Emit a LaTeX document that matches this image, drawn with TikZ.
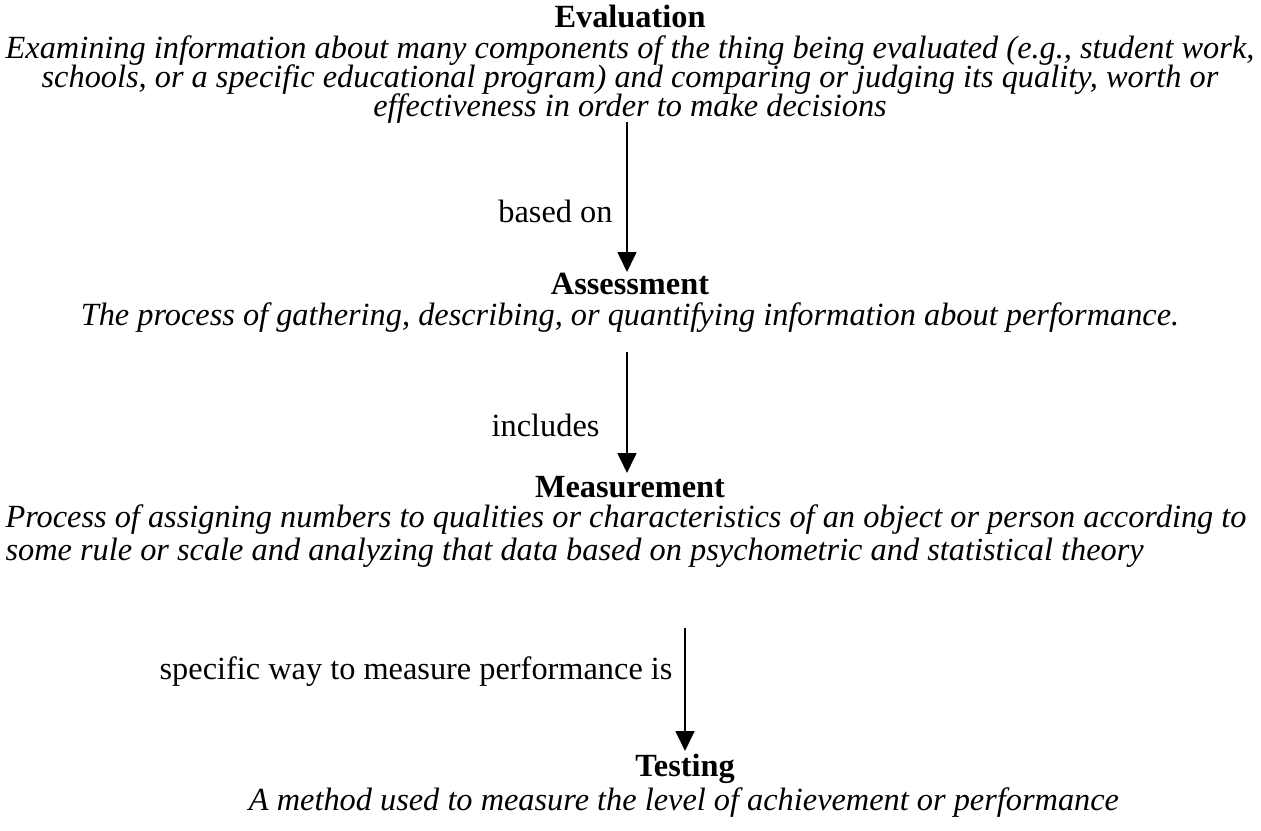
\documentclass[tikz,border=0pt]{standalone}
\usepackage{fontspec}
\setmainfont{Liberation Serif}
\usetikzlibrary{arrows.meta}
\newcommand\tightlines{\lineskiplimit=-100pt\relax}

\begin{document}
\begin{tikzpicture}[x=0.371pt,y=-0.371pt,
  every node/.style={inner sep=0pt,font=\fontsize{12}{10.8}\selectfont},
  head/.style={anchor=base,font=\fontsize{12}{10.8}\selectfont\bfseries},
  defn/.style={anchor=base,align=center,font=\fontsize{12}{10.8}\selectfont\tightlines\itshape},
  link/.style={line width=0.75pt,-{Triangle[length=7.4pt,width=7pt]}}]
\useasboundingbox (0,0) rectangle (1261,831);

% Evaluation
\node[head] (eval) at (630,28) {Evaluation};
\node[defn] (evaltxt) at (630,117) {Examining information about many components of the thing being evaluated (e.g., student work,\\
schools, or a specific educational program) and comparing or judging its quality, worth or\\
effectiveness in order to make decisions};

% Assessment
\node[head] (assess) at (630,295) {Assessment};
\node[defn] (assesstxt) at (630,326) {The process of gathering, describing, or quantifying information about performance.};

% Measurement
\node[head] (measure) at (630,497) {Measurement};
\node[defn,align=left,anchor=base west,font=\fontsize{12}{12.6}\selectfont\tightlines\itshape] (measuretxt) at (5,561) {Process of assigning numbers to qualities or characteristics of an object or person according to\\
some rule or scale and analyzing that data based on psychometric and statistical theory};

% Testing
\node[head] (test) at (685,777) {Testing};
\node[defn] (testtxt) at (684,810) {A method used to measure the level of achievement or performance};

% arrows
\coordinate (a1) at (627,122);
\coordinate (b1) at (627,272);
\coordinate (a2) at (627,352);
\coordinate (b2) at (627,473);
\coordinate (a3) at (685,628);
\coordinate (b3) at (685,751);
\draw[link] (a1) -- (b1);
\draw[link] (a2) -- (b2);
\draw[link] (a3) -- (b3);

\node[anchor=base east] (basedon) at (613,223) {based on};
\node[anchor=base east] (includes) at (600,437) {includes};
\node[anchor=base east] (specific) at (673,680) {specific way to measure performance is};
\end{tikzpicture}
\end{document}
